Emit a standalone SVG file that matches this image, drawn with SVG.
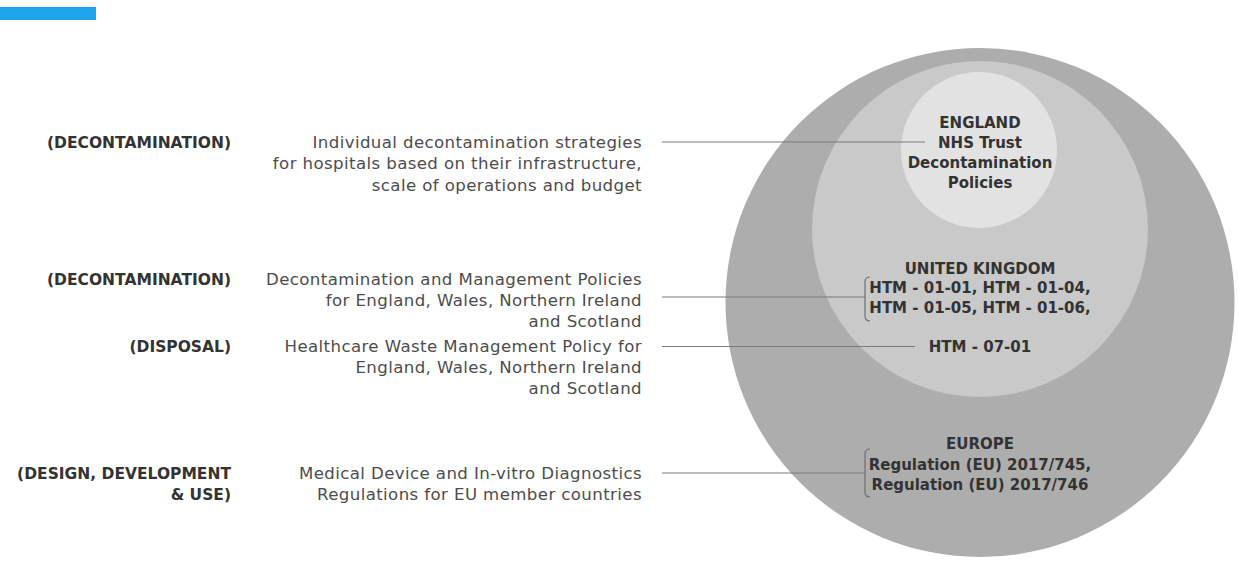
<svg xmlns="http://www.w3.org/2000/svg" width="1238" height="561" viewBox="0 0 1238 561">
<style>
.lbl{font-family:"DejaVu Sans","Liberation Sans",sans-serif;font-weight:bold;font-size:15.5px;fill:#333;text-anchor:end}
.desc{font-family:"DejaVu Sans","Liberation Sans",sans-serif;font-size:16.6px;fill:#4d4d4d;text-anchor:end;letter-spacing:0.4px}
.ct{font-family:"DejaVu Sans","Liberation Sans",sans-serif;font-weight:bold;font-size:15px;fill:#333;text-anchor:middle}
.conn{stroke:#7a7a7a;stroke-width:1.2;fill:none}
.br{stroke:#6e6e6e;stroke-width:1.2;fill:none}
</style>
<rect width="1238" height="561" fill="#ffffff"/>
<rect x="0" y="7" width="96" height="13" fill="#1ea4ea"/>
<g id="europe"><circle cx="980" cy="302.5" r="254.5" fill="#adadad"/></g>
<g id="uk"><circle cx="980" cy="229" r="168" fill="#c9c9c9"/></g>
<g id="england"><circle cx="979" cy="150" r="78" fill="#e2e2e2"/></g>
<g id="connectors">
<line class="conn" x1="662" y1="142" x2="925" y2="142"/>
<line class="conn" x1="662" y1="297" x2="865" y2="297"/>
<line class="conn" x1="662" y1="346.5" x2="915" y2="346.5"/>
<line class="conn" x1="662" y1="473" x2="865" y2="473"/>
<path class="br" d="M870 277 Q865 277 865 282 L865 316 Q865 321 870 321"/>
<path class="br" d="M870 449 Q865 449 865 454 L865 492 Q865 497 870 497"/>
</g>
<g id="england-text">
<text class="ct" x="980" y="127.5">ENGLAND</text>
<text class="ct" x="980" y="147.5">NHS Trust</text>
<text class="ct" x="980" y="167.5">Decontamination</text>
<text class="ct" x="980" y="187.5">Policies</text>
</g>
<g id="uk-text">
<text class="ct" x="980" y="273.5">UNITED KINGDOM</text>
<text class="ct" x="980" y="292.5">HTM - 01-01, HTM - 01-04,</text>
<text class="ct" x="980" y="312.5">HTM - 01-05, HTM - 01-06,</text>
<text class="ct" x="980" y="352">HTM - 07-01</text>
</g>
<g id="europe-text">
<text class="ct" x="980" y="448.5">EUROPE</text>
<text class="ct" x="980" y="469.5">Regulation (EU) 2017/745,</text>
<text class="ct" x="980" y="489.5">Regulation (EU) 2017/746</text>
</g>
<g id="row1">
<text class="lbl" x="231" y="147.5">(DECONTAMINATION)</text>
<text class="desc" x="642" y="147.5">Individual decontamination strategies</text>
<text class="desc" x="642" y="169">for hospitals based on their infrastructure,</text>
<text class="desc" x="642" y="190.5">scale of operations and budget</text>
</g>
<g id="row2">
<text class="lbl" x="231" y="285">(DECONTAMINATION)</text>
<text class="desc" x="642" y="284.5">Decontamination and Management Policies</text>
<text class="desc" x="642" y="305.5">for England, Wales, Northern Ireland</text>
<text class="desc" x="642" y="326.5">and Scotland</text>
</g>
<g id="row3">
<text class="lbl" x="231" y="352">(DISPOSAL)</text>
<text class="desc" x="642" y="352">Healthcare Waste Management Policy for</text>
<text class="desc" x="642" y="373">England, Wales, Northern Ireland</text>
<text class="desc" x="642" y="394">and Scotland</text>
</g>
<g id="row4">
<text class="lbl" x="231" y="478.5">(DESIGN, DEVELOPMENT</text>
<text class="lbl" x="231" y="499.5">&amp; USE)</text>
<text class="desc" x="642" y="478.5">Medical Device and In-vitro Diagnostics</text>
<text class="desc" x="642" y="499.5">Regulations for EU member countries</text>
</g>
</svg>
